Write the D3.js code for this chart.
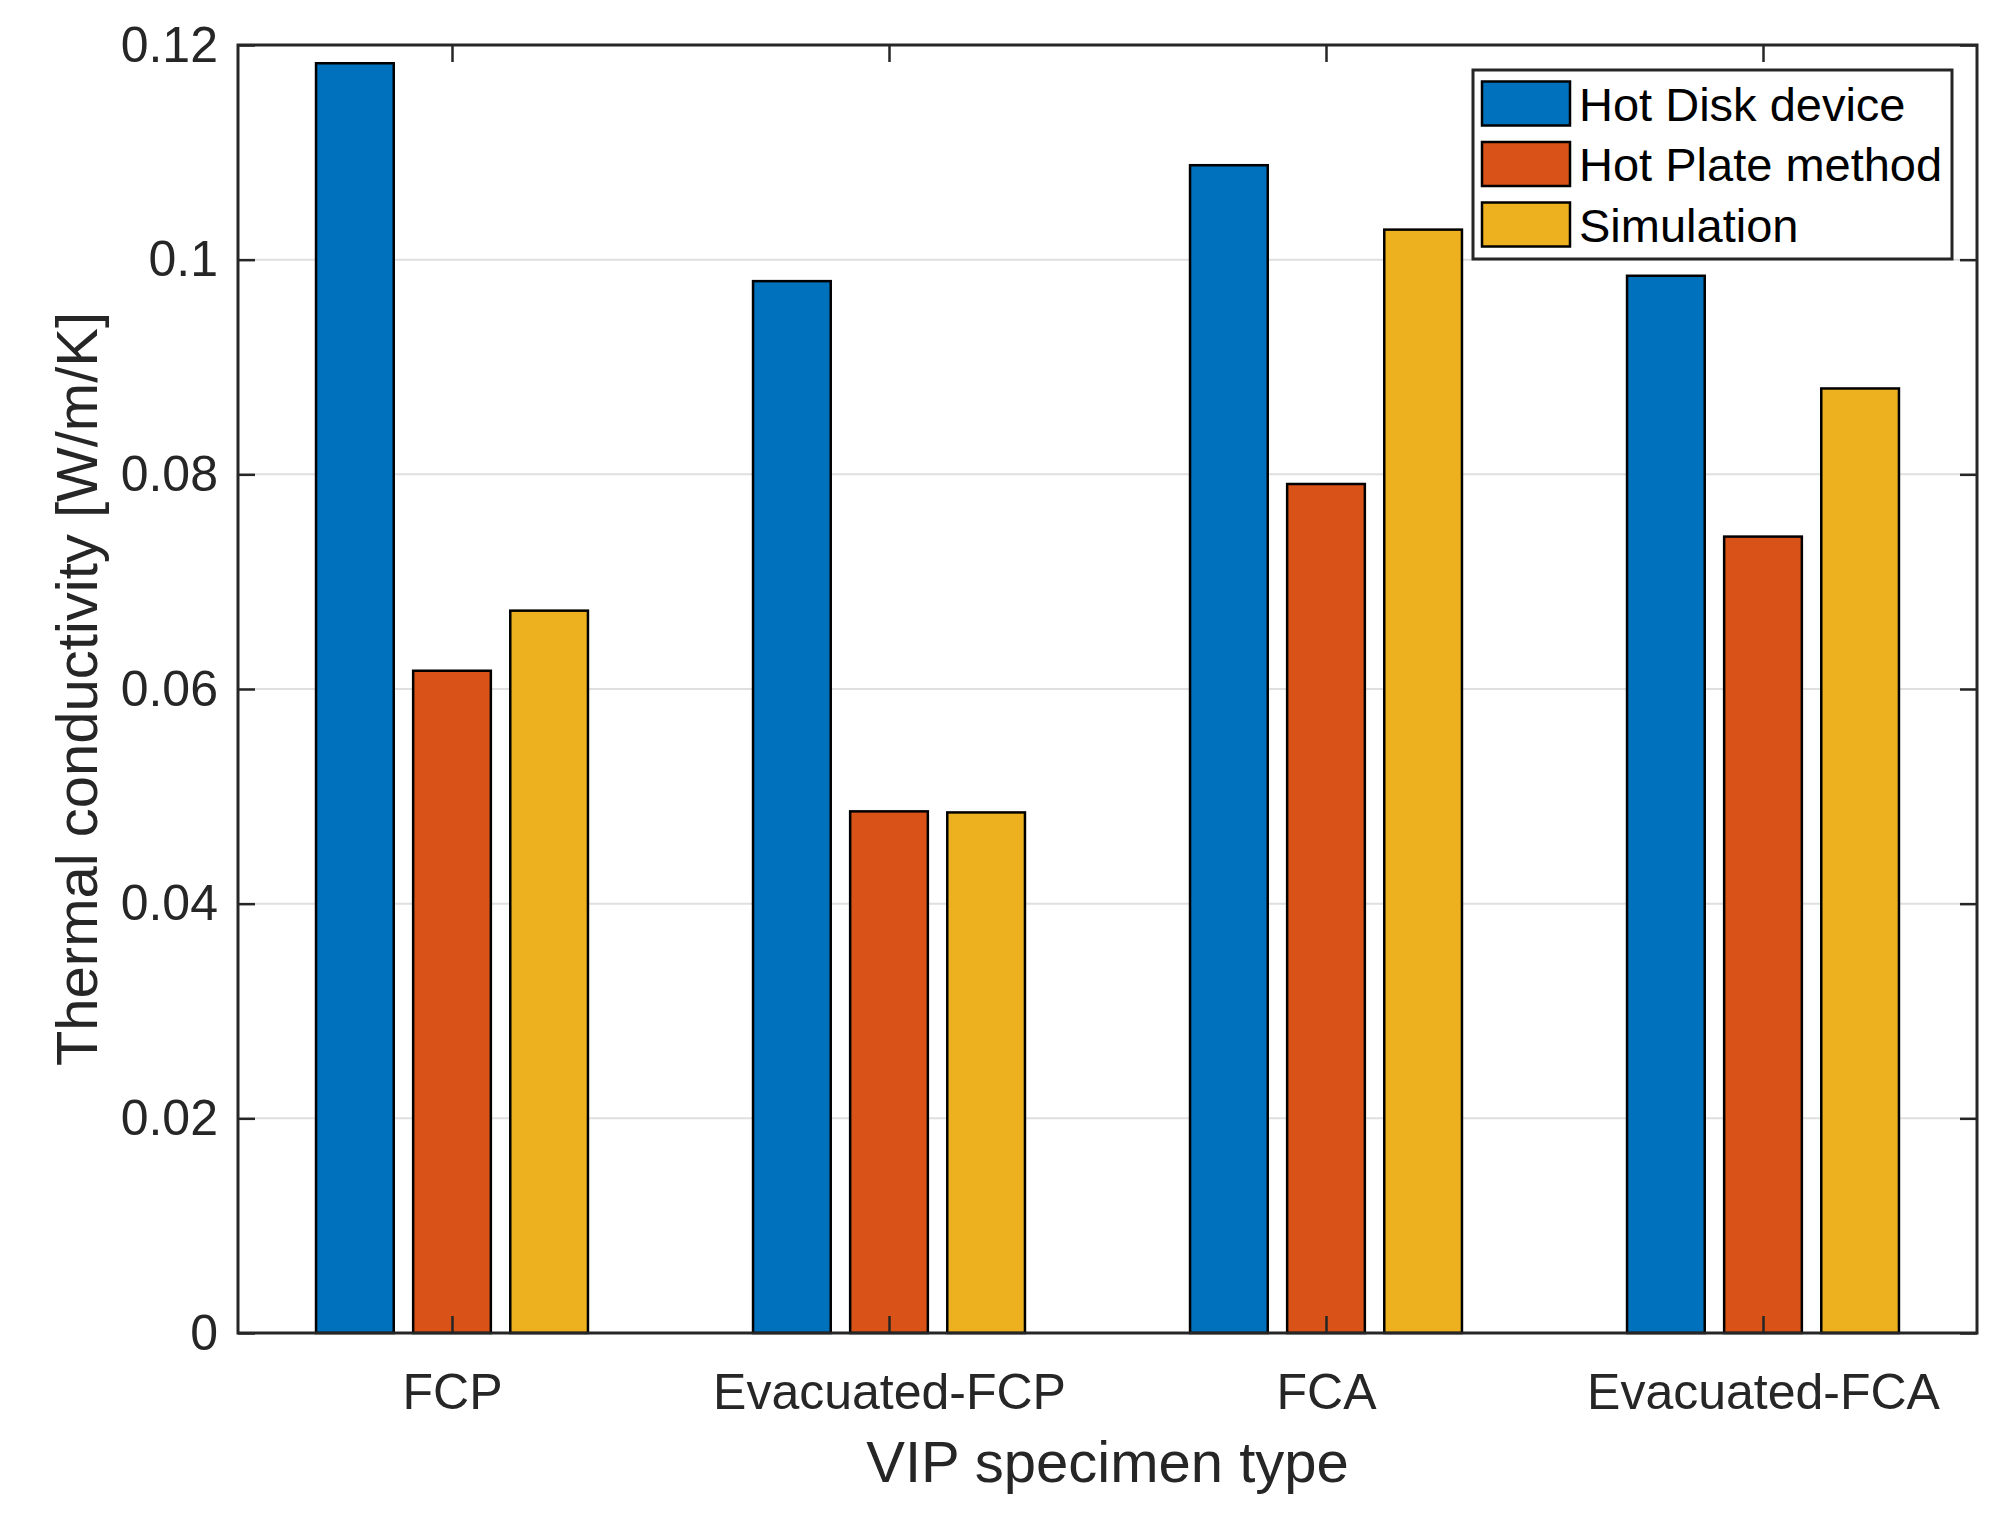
<!DOCTYPE html>
<html>
<head>
<meta charset="utf-8">
<script src="https://d3js.org/d3.v7.min.js"></script>
<style>
  body { margin: 0; background: #fff; }
  text { font-family: "Liberation Sans", Arial, Helvetica, sans-serif; }
</style>
</head>
<body>
<script>

  var categories = ["FCP", "Evacuated-FCP", "FCA", "Evacuated-FCA"];
  var seriesNames = ["Hot Disk device", "Hot Plate method", "Simulation"];
  var hotDisk = [0.1183, 0.0980, 0.1088, 0.0985];
  var hotPlate = [0.0617, 0.0486, 0.0791, 0.0742];
  var simulation = [0.0673, 0.0485, 0.1028, 0.0880];
  var yTicks = [0, 0.02, 0.04, 0.06, 0.08, 0.1, 0.12];
  var colors = ["#0072BD", "#D95319", "#EDB120"];

  var series = [hotDisk, hotPlate, simulation];

  var W = 2013, H = 1517;
  var axLeft = 238, axRight = 1977, axTop = 45, axBottom = 1333;

  var svg = d3.select("body").append("svg")
    .attr("width", W)
    .attr("height", H);

  // category positions 1..4 (ticks measured at 452 and 1763)
  var x = d3.scaleLinear().domain([1, categories.length]).range([452, 1763]);
  var y = d3.scaleLinear().domain([0, 0.12]).range([axBottom, axTop]);

  // matlab style grouped bar geometry
  var groupWidth = Math.min(0.8, series.length / (series.length + 1.5));
  var step = groupWidth / series.length;
  var barWidth = step * 0.8;

  // grid
  svg.append("g").selectAll("line")
    .data(yTicks.slice(1, -1))
    .enter().append("line")
    .attr("x1", axLeft).attr("x2", axRight)
    .attr("y1", function(d) { return y(d); })
    .attr("y2", function(d) { return y(d); })
    .attr("stroke", "#dfdfdf")
    .attr("stroke-width", 2);

  // bars
  series.forEach(function(values, j) {
    svg.append("g").selectAll("rect")
      .data(values)
      .enter().append("rect")
      .attr("x", function(d, i) {
        var c = i + 1 - groupWidth / 2 + step * (j + 0.5);
        return x(c - barWidth / 2);
      })
      .attr("width", x(1 + barWidth) - x(1))
      .attr("y", function(d) { return y(d); })
      .attr("height", function(d) { return y(0) - y(d); })
      .attr("fill", colors[j])
      .attr("stroke", "#000")
      .attr("stroke-width", 2.5);
  });

  var tickLen = 17;
  var axisColor = "#262626";

  // y axis left + right
  var yAxisL = d3.axisLeft(y).tickValues(yTicks).tickSize(-tickLen).tickPadding(20)
    .tickFormat(function(d) { return d === 0 ? "0" : String(+d.toFixed(2)); });
  var gL = svg.append("g").attr("transform", "translate(" + axLeft + ",0)").call(yAxisL);
  var yAxisR = d3.axisRight(y).tickValues(yTicks).tickSize(-tickLen).tickFormat("");
  var gR = svg.append("g").attr("transform", "translate(" + axRight + ",0)").call(yAxisR);

  // x axis bottom + top
  var xTicks = categories.map(function(c, i) { return i + 1; });
  var xAxisB = d3.axisBottom(x).tickValues(xTicks).tickSize(-tickLen).tickPadding(40)
    .tickFormat(function(d) { return categories[d - 1]; });
  var gB = svg.append("g").attr("transform", "translate(0," + axBottom + ")").call(xAxisB);
  var xAxisT = d3.axisTop(x).tickValues(xTicks).tickSize(-tickLen).tickFormat("");
  var gT = svg.append("g").attr("transform", "translate(0," + axTop + ")").call(xAxisT);

  [gL, gR, gB, gT].forEach(function(g) {
    g.select(".domain").remove();
    g.selectAll("line").attr("stroke", axisColor).attr("stroke-width", 2.5);
    g.selectAll("text")
      .attr("fill", axisColor)
      .style("font-size", "50px");
  });

  // box
  svg.append("rect")
    .attr("x", axLeft).attr("y", axTop)
    .attr("width", axRight - axLeft).attr("height", axBottom - axTop)
    .attr("fill", "none")
    .attr("stroke", axisColor)
    .attr("stroke-width", 3);

  // axis labels
  svg.append("text")
    .attr("x", (axLeft + axRight) / 2)
    .attr("y", 1482)
    .attr("text-anchor", "middle")
    .attr("fill", axisColor)
    .style("font-size", "58px")
    .text("VIP specimen type");

  svg.append("text")
    .attr("transform", "translate(97," + (axTop + axBottom) / 2 + ") rotate(-90)")
    .attr("text-anchor", "middle")
    .attr("fill", axisColor)
    .style("font-size", "58px")
    .text("Thermal conductivity [W/m/K]");

  // legend
  var legend = svg.append("g");
  legend.append("rect")
    .attr("x", 1473).attr("y", 70)
    .attr("width", 1952 - 1473).attr("height", 259 - 70)
    .attr("fill", "#fff")
    .attr("stroke", axisColor)
    .attr("stroke-width", 3);

  var rows = legend.selectAll("g.row")
    .data(seriesNames)
    .enter().append("g")
    .attr("class", "row")
    .attr("transform", function(d, i) { return "translate(0," + (103.5 + i * 60.5) + ")"; });

  rows.append("rect")
    .attr("x", 1482).attr("y", -22)
    .attr("width", 88).attr("height", 44)
    .attr("fill", function(d, i) { return colors[i]; })
    .attr("stroke", "#000")
    .attr("stroke-width", 2.5);

  rows.append("text")
    .attr("x", 1579)
    .attr("y", 17)
    .attr("fill", "#000")
    .style("font-size", "47px")
    .text(function(d) { return d; });

</script>
</body>
</html>
